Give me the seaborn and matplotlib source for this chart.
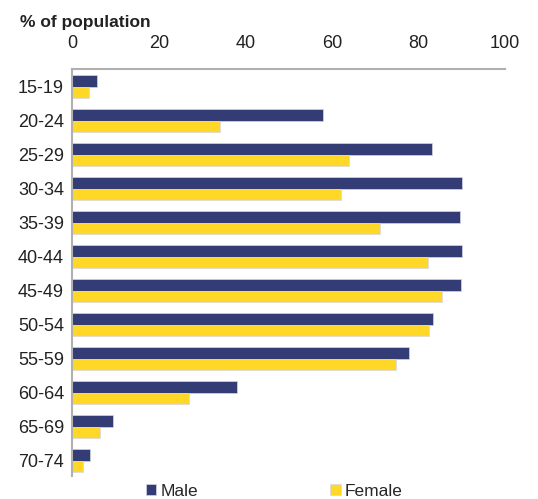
import seaborn as sns
import matplotlib.pyplot as plt
import pandas as pd

# faixas etárias e percentuais
age_groups = ["15-19", "20-24", "25-29", "30-34", "35-39", "40-44",
              "45-49", "50-54", "55-59", "60-64", "65-69", "70-74"]
male = [5.8, 57.9, 83.1, 90.1, 89.5, 90.1, 89.8, 83.4, 77.9, 38.0, 9.5, 4.2]
female = [3.9, 34.1, 63.9, 62.1, 71.1, 82.1, 85.5, 82.4, 74.8, 27.0, 6.4, 2.4]
x_ticks = [0, 20, 40, 60, 80, 100]

df = pd.DataFrame({
    "age": age_groups * 2,
    "value": male + female,
    "sex": ["Male"] * len(age_groups) + ["Female"] * len(age_groups),
})

sns.set_style("white")
plt.rcParams["font.family"] = ["Liberation Sans", "DejaVu Sans"]

fig = plt.figure(figsize=(5.38, 4.99), dpi=100)
ax = fig.add_axes([0.1344, 0.0461, 0.8043, 0.8162])

sns.barplot(data=df, y="age", x="value", hue="sex", orient="h",
            palette={"Male": "#343c75", "Female": "#ffd726"},
            saturation=1, width=0.67, edgecolor="#d4d6e6", linewidth=0.5,
            errorbar=None, ax=ax)

ax.set_xlim(0, 100)
ax.set_ylim(11.45, -0.53)
ax.set_xticks(x_ticks)
ax.xaxis.tick_top()
ax.tick_params(axis="both", length=0, labelsize=13, colors="#222222")
ax.tick_params(axis="y", pad=6)
ax.tick_params(axis="x", pad=12)
ax.set_xlabel("")
ax.set_ylabel("")

for side in ["right", "bottom"]:
    ax.spines[side].set_visible(False)
for side in ["top", "left"]:
    ax.spines[side].set_color("#b0b0b0")
    ax.spines[side].set_linewidth(1.5)

fig.text(20 / 538, 1 - 22 / 499, "% of population", fontsize=12.5,
         fontweight="bold", color="#222222", va="center", ha="left")

ax.legend(loc="center left", bbox_to_anchor=(146 / 538, 1 - 491.5 / 499),
          bbox_transform=fig.transFigure, ncol=2, frameon=False,
          fontsize=12.5, handlelength=0.6, handleheight=0.6,
          handletextpad=0.25, columnspacing=7.6, borderaxespad=0,
          borderpad=0)

plt.savefig("out.png", dpi=100)
